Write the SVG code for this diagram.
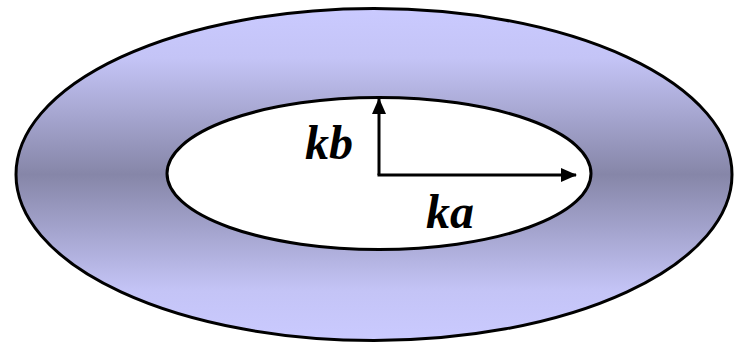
<svg xmlns="http://www.w3.org/2000/svg" width="749" height="343" viewBox="0 0 749 343">
<style>
.outline{stroke:#000;stroke-width:3}
.conn{stroke:#000;stroke-width:3;fill:none}
.lbl{font-family:"Liberation Serif","Times New Roman",serif;font-weight:bold;font-style:italic;font-size:48px;fill:#000}
</style>
<defs>
<linearGradient id="g" x1="0" y1="0" x2="0" y2="1">
<stop offset="0" stop-color="#cacaff"/>
<stop offset="0.15" stop-color="#c4c4f6"/>
<stop offset="0.5" stop-color="#8686a8"/>
<stop offset="0.85" stop-color="#c4c4f6"/>
<stop offset="1" stop-color="#cacaff"/>
</linearGradient>
<marker id="ah" markerWidth="16" markerHeight="14" refX="15" refY="7" orient="auto" markerUnits="userSpaceOnUse">
<path d="M0,0 L16,7 L0,14 Z" fill="#000"/>
</marker>
</defs>
<g id="outer"><ellipse cx="374" cy="174.5" rx="358" ry="166" fill="url(#g)" class="outline"/></g>
<g id="inner"><ellipse cx="379" cy="173.5" rx="212" ry="76" fill="#fff" class="outline"/></g>
<g id="connectors">
<path class="conn" d="M379,175 L379,99" marker-end="url(#ah)"/>
<path class="conn" d="M377.5,175 L576,175" marker-end="url(#ah)"/>
</g>
<g id="labels">
<text class="lbl" x="305" y="159">kb</text>
<text class="lbl" x="426" y="228">ka</text>
</g>
</svg>
